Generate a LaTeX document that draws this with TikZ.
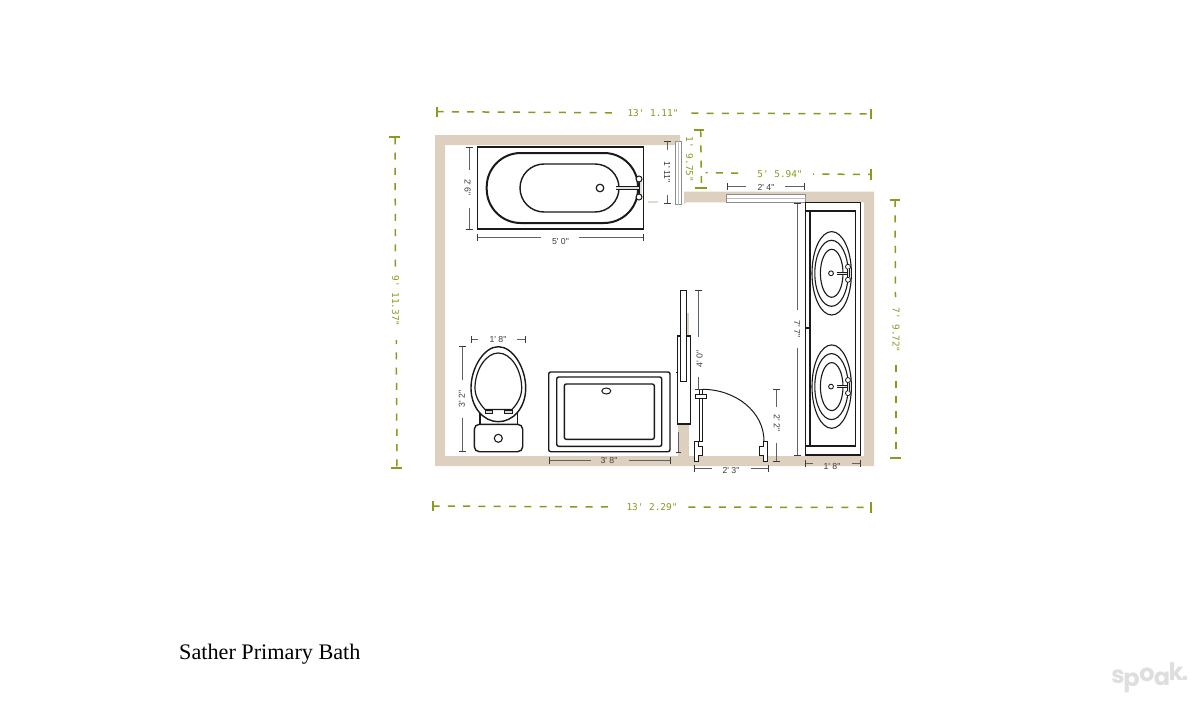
\documentclass[tikz,border=0pt]{standalone}
\usepackage{fontspec}
\newfontfamily\dimfont{Liberation Sans}
\newfontfamily\greenfont{DejaVu Sans Mono}
\newfontfamily\titlefont{Liberation Serif}
\newfontfamily\markfont{Poppins}
\definecolor{wallc}{HTML}{DDD0BE}
\definecolor{greenc}{HTML}{8A9A1E}
\definecolor{greyc}{HTML}{5C6268}
\definecolor{inkc}{HTML}{1A1A1A}
\definecolor{markc}{HTML}{DEDEDE}
\tikzset{
  wallfill/.style={fill=wallc,draw=none},
  fixture/.style={draw=inkc,line width=1.4pt,fill=white},
  fixturebold/.style={draw=inkc,line width=1.8pt,fill=white},
  pane/.style={draw=inkc,line width=1.3pt,fill=white},
  jamb/.style={draw=inkc,line width=.9pt,fill=white},
  windowbox/.style={draw=black!45,line width=.6pt,fill=white},
  bdim/.style={draw=greyc,line width=1pt},
  btick/.style={draw=inkc!85,line width=1pt},
  gdim/.style={draw=greenc,line width=1.5pt,dash pattern=on 7pt off 8.3pt},
  gtick/.style={draw=greenc,line width=2pt},
  btext/.style={font=\dimfont\fontsize{8.7}{10}\selectfont,text=inkc!85,inner sep=0pt},
  gtext/.style={font=\greenfont\fontsize{9.4}{10}\selectfont,text=greenc,inner sep=0pt},
  marktext/.style={font=\markfont\bfseries\fontsize{24}{28}\selectfont,text=markc,inner sep=0pt,anchor=base},
}
\newcounter{dimno}
% horizontal black dimension: x1,x2,y,gap1,gap2,textx,texty,text
\newcommand\dimHoriz[8]{%
  \stepcounter{dimno}%
  \draw[bdim] (#1,#3) -- (#4,#3) (#5,#3) -- (#2,#3);
  \draw[btick] (#1,#3-3.5) -- (#1,#3+3.5) (#2,#3-3.5) -- (#2,#3+3.5);
  \node[btext] (dim\arabic{dimno}) at (#6,#7) {#8};}
% vertical black dimension: y1,y2,x,gap1,gap2,textx,texty,angle,text
\newcommand\dimVert[9]{%
  \stepcounter{dimno}%
  \draw[bdim] (#3,#1) -- (#3,#4) (#3,#5) -- (#3,#2);
  \draw[btick] (#3-3.5,#1) -- (#3+3.5,#1) (#3-3.5,#2) -- (#3+3.5,#2);
  \node[btext,rotate=#8] (dim\arabic{dimno}) at (#6,#7) {#9};}
\newcommand\sinkbowl[1]{%
  \begin{scope}[yshift=-#1pt]
    \draw[inkc,line width=1.1pt] (831.7,0) ellipse [x radius=19.7,y radius=41.7];
    \draw[inkc,line width=1.1pt] (831.5,0) ellipse [x radius=16.7,y radius=33];
    \draw[inkc,line width=1.1pt] (831.7,0) ellipse [x radius=11.3,y radius=24];
    \draw[inkc,line width=.9pt] (831,0) circle [radius=2.4];
    \draw[inkc,line width=.7pt,double=black!10,double distance=1.2pt] (836.7,0) -- (847,0);
    \draw[inkc,line width=.8pt,fill=white] (848,-6.5) circle [radius=2.5];
    \draw[inkc,line width=.8pt,fill=white] (848,6.5) circle [radius=2.5];
    \draw[inkc,line width=.7pt,double=black!10,double distance=1.2pt] (848.3,-4) -- (848.3,4);
  \end{scope}}
\begin{document}
\begin{tikzpicture}[x=1pt,y=-1pt]
\useasboundingbox[fill=white] (0,0) rectangle (1200,709);
% walls
\fill[wallfill] (435,135) -- (680,135) -- (680,145) -- (445,145) -- (445,456) -- (864,456) -- (864,202.3)
  -- (686.5,202.3) -- (678,208) -- (684,204) -- (684,191.7) -- (874,191.7) -- (874,466) -- (435,466) -- cycle;
\fill[wallfill] (678,424) rectangle (689,456);
\fill[wallfill] (686.5,313) rectangle (689,336);
\fill[wallfill,opacity=.8] (648,201.3) rectangle (658,203);
% windows
\draw[windowbox] (675.7,141) rectangle (681,204.5);
\draw[black!25,line width=.4pt] (678.3,141) -- (678.3,204.5);
\draw[windowbox] (726.7,194.3) rectangle (805.7,202.3);
\draw[black!25,line width=.4pt] (726.7,198.3) -- (805.7,198.3);
% bathtub
\draw[fixturebold] (477.5,146.7) rectangle (643.5,229.3);
\draw[draw=inkc,line width=2pt,rounded corners=34pt] (486.7,153) rectangle (638,223);
\draw[draw=inkc,line width=1.4pt,rounded corners=24pt] (520,164) rectangle (619,212);
\draw[inkc,line width=1.2pt] (600,188) circle [radius=3.8];
\draw[inkc,line width=.8pt,double=black!12,double distance=2pt] (616,188) -- (639,188);
\draw[inkc,line width=.8pt,double=black!12,double distance=2pt] (640.5,178) -- (640.5,198);
\draw[inkc,line width=1pt,fill=white] (639,179) circle [radius=3];
\draw[inkc,line width=1pt,fill=white] (639,197) circle [radius=3];
% vanity
\draw[fixture] (805.7,202.7) rectangle (860.7,455);
\draw[fixture] (805.7,211) rectangle (855.7,446);
\draw[inkc,line width=1.1pt] (810,211) -- (810,446);
\draw[inkc,line width=1.1pt] (805.7,328) -- (810,328);
\sinkbowl{273.3}
\sinkbowl{386.6}
% mirror / glass panes
\draw[pane] (677.3,336) rectangle (690.7,424);
\draw[pane] (680.7,290.7) rectangle (686.7,381.7);
\draw[inkc,line width=.8pt] (675.5,372.7) -- (677.3,372.7);
% door
\draw[inkc,line width=1pt] (702,389.3) .. controls (736,389.3) and (764,412) .. (764,441);
\draw[jamb] (699,389.3) rectangle (702.7,441.7);
\draw[jamb] (695,394) rectangle (706.7,398.3);
\draw[jamb] (694,441) -- (698.3,441) -- (698.3,446.7) -- (702.7,446.7) -- (702.7,455) -- (698.3,455) -- (698.3,461) -- (694,461) -- cycle;
\draw[jamb] (767.7,441) -- (763.3,441) -- (763.3,446.7) -- (759.3,446.7) -- (759.3,455) -- (763.3,455) -- (763.3,461) -- (767.7,461) -- cycle;
% floor tray
\draw[fixture,rounded corners=2pt] (548.7,372) rectangle (670,451.7);
\draw[fixture,rounded corners=2pt] (556.7,377) rectangle (661.7,446.3);
\draw[fixture,rounded corners=2pt] (564.3,384) rectangle (654.3,439.3);
\draw[inkc,line width=1pt] (606.3,391) ellipse [x radius=4.5,y radius=3];
% toilet
\draw[inkc,line width=1.2pt] (480,410) -- (480,424.3) (517.3,410) -- (517.3,424.3);
\draw[fixture,rounded corners=5pt] (474.3,424.3) rectangle (522.7,451.7);
\draw[inkc,line width=1.1pt] (498.3,438.3) circle [radius=4];
\draw[fixture] (498.3,346.7) .. controls (484,346.7) and (471,368) .. (471,388)
  .. controls (471,408) and (484,421.7) .. (498.3,421.7)
  .. controls (513,421.7) and (525.7,408) .. (525.7,388)
  .. controls (525.7,368) and (513,346.7) .. (498.3,346.7) -- cycle;
\draw[inkc,line width=1.2pt] (485,409.5) .. controls (479,403) and (475,396) .. (475,388)
  .. controls (475,370) and (486,353) .. (498.3,353)
  .. controls (511,353) and (521.7,370) .. (521.7,388)
  .. controls (521.7,396) and (518,403) .. (512,409.5) -- cycle;
\draw[inkc,line width=.8pt,fill=black!15] (485,410) rectangle (492.7,413.7);
\draw[inkc,line width=.8pt,fill=black!15] (504.3,410) rectangle (512.3,413.7);
% black dimensions
\dimHoriz{477.5}{643.5}{237.7}{541}{579}{560.5}{241.5}{5' 0"}
\dimVert{147}{229.3}{469.3}{170}{208}{467.5}{187.5}{-90}{2' 6"}
\dimVert{141.7}{203}{667.7}{150}{195}{667}{172}{-90}{1' 11"}
\dimHoriz{727.7}{804}{186.7}{746}{785}{766}{187.7}{2' 4"}
\dimVert{203}{455}{797.3}{310}{348}{797}{329}{-90}{7' 7"}
\dimHoriz{805.7}{860.7}{463.3}{813}{851.7}{832}{467}{1' 8"}
\dimVert{290.7}{389.3}{698.3}{337}{376.7}{699.5}{359}{90}{4' 0"}
\dimVert{389.3}{461}{776}{406.7}{443.3}{777}{423.3}{-90}{2' 2"}
\dimHoriz{694.3}{768}{468.7}{711.7}{750.7}{731}{470.7}{2' 3"}
\dimHoriz{549}{670}{460}{590.7}{629}{609}{461}{3' 8"}
\dimHoriz{471}{525.7}{339}{478.3}{517.3}{498}{340}{1' 8"}
\dimVert{346.7}{451}{462.7}{380}{417.7}{462}{399}{90}{3' 2"}
\draw[bdim] (678.3,431.7) -- (678.3,452.7);
\draw[btick] (675.5,452.7) -- (681,452.7);
% green dimensions
\node[gtext] (gTop) at (653,113.3) {13' 1.11"};
\draw[gtick] (436.5,107) -- (436.5,117) (871,108.5) -- (871,119);
\draw[gdim] (436.5,111.7) -- (614,112.8);
\draw[gdim,dash phase=12pt] (688,113.2) -- (871,113.8);
\node[gtext] (gBot) at (652,507.5) {13' 2.29"};
\draw[gtick] (432.5,501) -- (432.5,511) (871,502) -- (871,513);
\draw[gdim] (432.5,506) -- (611,507);
\draw[gdim,dash phase=12pt] (685,507) -- (871,507.5);
\node[gtext,rotate=-90] (gLeft) at (395.5,301) {9' 11.37"};
\draw[gtick] (389,137.3) -- (400,137.3) (391,467.7) -- (402,467.7);
\draw[gdim] (395,137.3) -- (395.5,268);
\draw[gdim,dash phase=3pt] (396.3,340) -- (397,467.7);
\node[gtext,rotate=-90] (gRight) at (896,330) {7' 9.72"};
\draw[gtick] (889.5,200) -- (900,200) (890,457.7) -- (900.5,457.7);
\draw[gdim] (895,200) -- (895.5,297);
\draw[gdim,dash phase=12pt] (896,362) -- (896,457.7);
\node[gtext] (gUpper) at (780,174.5) {5' 5.94"};
\draw[gtick] (871,169) -- (871,180);
\draw[gdim,dash phase=5pt] (705.5,172.7) -- (745,173.2);
\draw[gdim,dash phase=6pt] (813,174) -- (871,174.5);
\node[gtext,rotate=-90] (gStub) at (689.5,159.5) {1' 9.75"};
\draw[gtick] (694,130) -- (704,130) (695,187.7) -- (706.5,187.7);
\draw[gdim] (700.7,130) -- (701.5,187.7);
% title
\node[font=\titlefont\fontsize{22.2}{24}\selectfont,inner sep=0pt,anchor=base west] (title) at (179,659) {Sather Primary Bath};
% watermark
\node[marktext] (ms) at (1118,683) {s};
\node[marktext] (mp) at (1131.5,686) {p};
\node[marktext] (mo) at (1147,681) {o};
\node[marktext] (ma) at (1162,685) {a};
\node[marktext] (mk) at (1176,680) {k};
\node[marktext] (mdot) at (1185,680) {.};
\end{tikzpicture}
\end{document}
